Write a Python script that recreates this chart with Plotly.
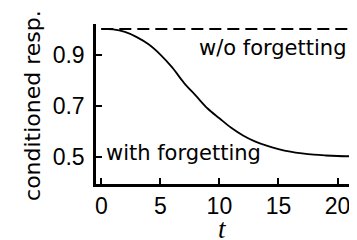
import plotly.graph_objects as go

t_vals = [0, 1, 2, 3, 4, 5, 6, 7, 8, 9, 10, 11, 12, 13, 14, 15, 16, 17, 18, 19, 20, 21]
with_forgetting = [1.0, 0.998, 0.988, 0.968, 0.94, 0.9, 0.85, 0.79, 0.74, 0.69, 0.652,
                   0.615, 0.585, 0.562, 0.545, 0.532, 0.522, 0.515, 0.51, 0.507, 0.505, 0.504]
without_t = [0, 22]
without_forgetting = [1.0, 1.0]
x_ticks = [0, 5, 10, 15, 20]
y_ticks = [0.5, 0.7, 0.9]
y_tick_labels = ["0.5", "0.7", "0.9"]

fig = go.Figure()
fig.add_trace(go.Scatter(x=without_t, y=without_forgetting, mode="lines",
                         line=dict(color="black", width=2, dash="12px,6px"),
                         showlegend=False, hoverinfo="skip"))
fig.add_trace(go.Scatter(x=t_vals, y=with_forgetting, mode="lines",
                         line=dict(color="black", width=1.8, shape="spline"),
                         showlegend=False, hoverinfo="skip"))

fig.add_annotation(x=20.9, xref="x", xanchor="right", y=0.925, yref="y",
                   text="w/o forgetting", showarrow=False,
                   font=dict(family="DejaVu Sans", size=21, color="black"))
fig.add_annotation(x=0.2, xref="x", xanchor="left", y=0.515, yref="y",
                   text="with forgetting", showarrow=False,
                   font=dict(family="DejaVu Sans", size=21, color="black"))
fig.add_annotation(x=10.3, xref="x", y=-0.35, yref="paper", yanchor="bottom",
                   text="<i>t</i>", showarrow=False, height=20, valign="middle",
                   borderpad=0,
                   font=dict(family="Liberation Serif", size=27, color="black"))
fig.add_annotation(x=-0.2414, xref="paper", xanchor="center", y=0.494, yref="paper",
                   yanchor="middle", text="conditioned resp.", textangle=-90,
                   showarrow=False,
                   font=dict(family="DejaVu Sans", size=22, color="black"))

# page has an 8px body margin, so the figure is drawn 8px smaller with shifted margins
fig.update_layout(
    width=349, height=232,
    margin=dict(l=88, r=0, t=16, b=56),
    paper_bgcolor="white", plot_bgcolor="white",
    font=dict(family="Liberation Sans", size=23, color="black"),
    xaxis=dict(range=[-0.45, 21.65], tickvals=x_ticks, ticks="inside", ticklen=6,
               tickwidth=2, tickcolor="black", showline=True, linewidth=2.5,
               linecolor="black", showgrid=False, zeroline=False, automargin=False),
    yaxis=dict(range=[0.396, 1.019], tickvals=y_ticks, ticktext=y_tick_labels,
               ticks="inside", ticklen=6, tickwidth=2, tickcolor="black",
               showline=True, linewidth=2.5, linecolor="black", showgrid=False,
               zeroline=False, automargin=False, ticklabelstandoff=4),
)

fig.write_html("out.html")
